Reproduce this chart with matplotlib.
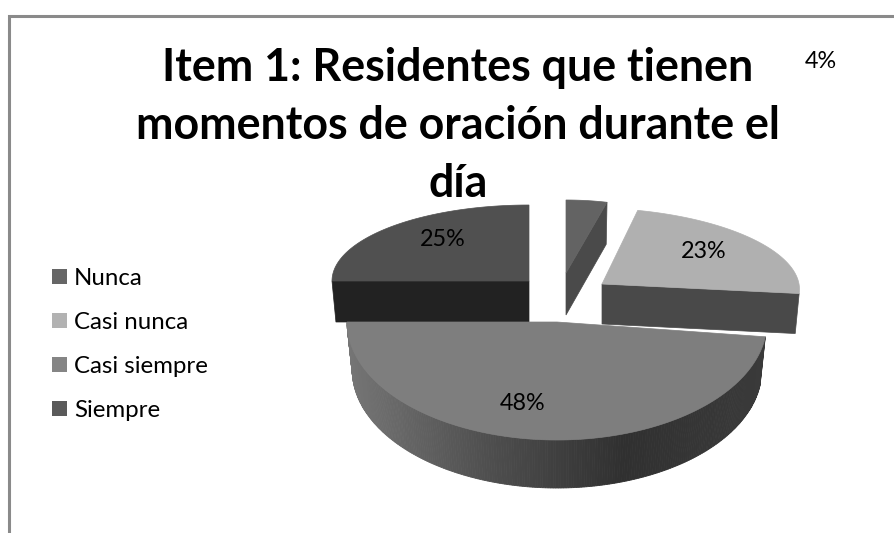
import numpy as np
import matplotlib.pyplot as plt
from matplotlib.colors import LinearSegmentedColormap
from matplotlib.patches import Patch

# data
categories = ['Nunca', 'Casi nunca', 'Casi siempre', 'Siempre']
values = [4, 23, 48, 25]
pct_labels = ['4%', '23%', '48%', '25%']
title = 'Item 1: Residentes que tienen\nmomentos de oración durante el\ndía'

# look of each slice, same order as categories
top_colors = ['#636363', '#b0b0b0', '#7e7e7e', '#505050']
wall_colors = ['#4a4a4a', '#494949', '#555555', '#222222']
legend_colors = ['#666666', '#b2b2b2', '#858585', '#5a5a5a']

# pie is exploded and in perspective so every slice has its own ellipse (pixels)
tip_x = [566, 602, 557, 529]
tip_y = [273, 284, 322, 281]
rad_x = [165, 197, 210, 197]
rad_y = [73, 76, 118, 76]
skew = [0, 0.18, 0, 0]
depth = [42, 40, 48, 41]
label_x = [821, 704, 523, 443]
label_y = [61, 251, 403, 239]

plt.rcParams['font.family'] = ['Lato', 'DejaVu Sans']

fig = plt.figure(figsize=(8.95, 5.33), dpi=100)
ax = fig.add_axes([0, 0, 1, 1])
ax.set_xlim(0, 895)
ax.set_ylim(533, 0)
ax.axis('off')

# chart frame, only top and left show
ax.plot([8.8, 8.8, 895], [533, 15.8, 15.8], color='#8a8a8a', lw=2.2, solid_joinstyle='miter')

edges = np.cumsum([0] + values) / np.sum(values) * 2 * np.pi


def arc(i, n=120, scale=1.0, drop=0.0):
    a = np.linspace(edges[i], edges[i + 1], n)
    up = rad_y[i] * np.cos(a)
    x = tip_x[i] + scale * rad_x[i] * np.sin(a) - skew[i] * up
    y = tip_y[i] + drop - up
    return x, y


def top_face(i, z):
    x, y = arc(i)
    ax.fill(np.r_[tip_x[i], x], np.r_[tip_y[i], y], color=top_colors[i], lw=0.5, zorder=z)


def side_face(i, angle, z):
    # flat cut face running from the tip to the rim
    ex = rad_x[i] * np.sin(angle) + skew[i] * rad_y[i] * -np.cos(angle)
    ey = -rad_y[i] * np.cos(angle)
    xs = [tip_x[i], tip_x[i] + ex, tip_x[i] + 0.98 * ex, tip_x[i]]
    ys = [tip_y[i], tip_y[i] + ey, tip_y[i] + ey + depth[i], tip_y[i] + depth[i]]
    ax.fill(xs, ys, color=wall_colors[i], lw=0.5, zorder=z)


# back slices first
side_face(3, edges[3], 2)
top_face(3, 3)
side_face(0, edges[1], 2)
top_face(0, 3)
side_face(1, edges[2], 2)
top_face(1, 3)

# round wall of the big slice, shaded from left to right
wall_cmap = LinearSegmentedColormap.from_list('wall', ['#757575', '#4f4f4f', '#303030', '#3a3a3a'])
x1, y1 = arc(2, n=240)
x2, y2 = arc(2, n=240, scale=0.975, drop=depth[2])
for k in range(len(x1) - 1):
    t = (x1[k] - x1.min()) / (x1.max() - x1.min())
    ax.fill([x1[k], x1[k + 1], x2[k + 1], x2[k]], [y1[k], y1[k + 1], y2[k + 1], y2[k]],
            color=wall_cmap(t), lw=0.6, zorder=4)
top_face(2, 5)

for lx, ly, txt in zip(label_x, label_y, pct_labels):
    ax.text(lx, ly, txt, ha='center', va='center', fontsize=16.8, color='black', zorder=6)

ax.text(458, 126, title, ha='center', va='center', fontsize=32.2, fontweight='bold',
        linespacing=1.46, color='black', zorder=7)

handles = [Patch(facecolor=c, edgecolor='none') for c in legend_colors]
ax.legend(handles, categories, loc='center left', bbox_to_anchor=(52, 344.5),
          bbox_transform=ax.transData, frameon=False, fontsize=17.3, handlelength=0.625,
          handleheight=0.625, handletextpad=0.3, labelspacing=0.955, borderpad=0, borderaxespad=0)

fig.savefig('out.png', dpi=100)
